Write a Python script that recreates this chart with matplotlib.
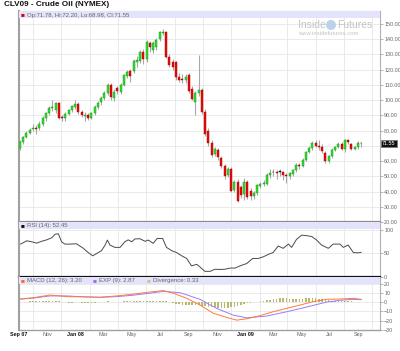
import matplotlib
matplotlib.use("Agg")
import matplotlib.pyplot as plt
import matplotlib.transforms as mtransforms
from matplotlib.patches import Rectangle, Ellipse
import numpy as np
import pandas as pd

plt.rcParams["font.family"] = ["Liberation Sans", "DejaVu Sans"]

# weekly candles of CLV09, first bar = week of 2007-09-03
opens = [68.5, 72.5, 76.0, 78.5, 81.2, 82.0, 81.5, 84.5, 88.0, 91.5,
         95.0, 93.5, 98.0, 89.0, 88.0, 91.0, 93.5, 95.5, 97.5, 92.4,
         89.6, 90.3, 88.5, 91.5, 95.5, 98.6, 101.2, 105.0, 110.0, 101.6,
         107.8, 105.5, 110.0, 116.0, 119.0, 119.0, 125.3, 125.7, 131.4, 127.0,
         137.7, 133.0, 134.7, 140.2, 144.3, 144.5, 128.5, 125.2, 125.0, 115.0,
         113.5, 113.0, 116.5, 107.0, 99.0, 104.7, 106.7, 92.4, 80.0, 72.0,
         64.4, 67.3, 61.8, 56.8, 50.9, 54.6, 41.0, 46.5, 42.8, 38.4,
         46.5, 40.4, 37.0, 39.2, 43.6, 45.0, 45.0, 50.9, 52.6, 52.8,
         53.0, 52.5, 51.0, 50.0, 51.5, 54.0, 57.5, 57.0, 61.0, 66.0,
         68.5, 72.0, 70.0, 69.5, 65.5, 60.0, 63.0, 67.5, 69.5, 71.5,
         68.0, 73.5, 71.5, 68.0, 69.0, 71.78]
highs = [73.5, 76.5, 79.5, 81.5, 84.0, 83.5, 86.5, 89.5, 92.5, 96.0,
         100.0, 99.0, 99.0, 90.5, 92.0, 94.5, 97.0, 100.0, 98.5, 93.5,
         92.0, 91.5, 92.5, 96.5, 99.5, 102.5, 106.0, 111.0, 111.0, 107.0,
         109.5, 111.0, 117.0, 119.5, 120.5, 127.0, 129.0, 133.0, 133.5, 139.5,
         139.0, 139.0, 140.5, 145.5, 146.7, 145.5, 130.0, 127.0, 126.0, 118.0,
         117.0, 117.0, 118.0, 109.0, 106.0, 129.6, 108.0, 94.0, 81.5, 74.0,
         69.0, 68.5, 63.5, 58.0, 56.0, 56.0, 47.5, 48.0, 44.5, 49.0,
         47.5, 42.0, 40.5, 45.0, 46.0, 47.5, 52.0, 55.0, 54.5, 54.0,
         54.5, 53.5, 52.0, 53.0, 55.0, 58.5, 59.0, 62.0, 66.5, 70.0,
         73.0, 73.5, 74.0, 71.0, 66.5, 64.0, 68.5, 70.0, 72.5, 72.5,
         74.5, 74.5, 72.0, 70.0, 73.0, 72.20]
lows = [67.5, 71.5, 75.0, 77.5, 79.5, 78.0, 80.5, 83.0, 86.5, 90.0,
        93.0, 91.5, 87.5, 86.5, 86.5, 90.0, 92.5, 94.5, 91.0, 89.0,
        86.0, 87.0, 87.5, 90.5, 94.5, 97.0, 100.0, 103.5, 100.0, 99.5,
        104.0, 104.0, 109.0, 114.5, 112.0, 117.5, 122.0, 124.5, 124.0, 125.0,
        131.5, 131.0, 133.0, 139.0, 142.5, 127.5, 121.5, 120.0, 113.5, 112.0,
        111.0, 111.5, 104.5, 100.0, 90.0, 103.0, 91.0, 76.5, 70.0, 62.5,
        63.0, 61.0, 55.5, 48.5, 49.5, 39.5, 40.0, 33.0, 36.0, 34.5,
        35.0, 34.5, 35.0, 38.0, 42.5, 43.5, 44.0, 49.0, 50.5, 48.5,
        50.0, 47.5, 45.5, 48.5, 50.5, 53.0, 55.0, 56.0, 60.0, 65.0,
        67.5, 69.0, 67.0, 65.5, 58.5, 59.0, 62.0, 66.5, 68.5, 67.5,
        66.0, 71.0, 67.0, 67.5, 68.0, 68.98]
closes = [72.5, 76.0, 78.5, 80.5, 81.7, 81.2, 84.5, 88.5, 91.5, 95.0,
          95.7, 98.0, 88.5, 88.3, 91.0, 93.5, 96.0, 97.5, 92.4, 90.3,
          89.8, 88.5, 91.5, 95.5, 98.3, 101.6, 105.0, 110.0, 101.9, 105.5,
          106.2, 110.0, 116.5, 118.3, 116.0, 125.7, 126.4, 131.8, 127.0, 138.4,
          134.7, 137.7, 139.5, 145.0, 145.0, 128.5, 123.0, 122.0, 115.0, 113.2,
          113.2, 115.0, 106.2, 101.0, 104.5, 106.7, 92.4, 77.8, 71.7, 64.0,
          67.7, 62.9, 56.8, 50.2, 54.6, 40.2, 46.0, 34.0, 37.7, 46.2,
          36.6, 37.0, 38.8, 44.3, 45.0, 45.8, 50.9, 52.3, 52.6, 52.0,
          53.0, 51.0, 50.0, 52.0, 54.0, 57.5, 56.5, 61.0, 66.0, 68.5,
          72.0, 70.0, 69.5, 66.5, 60.0, 63.0, 67.5, 69.5, 71.5, 68.0,
          73.5, 72.2, 68.0, 69.0, 72.0, 71.55]

# RSI (14): week index, value
rsi_week = [0.2, 2.1, 3.6, 5.1, 6.7, 8.2, 9.8, 10.8, 11.8, 12.8, 13.8, 15.4,
            17.4, 19.5, 21.0, 22.4, 23.6, 25.1, 26.2, 26.9, 27.7, 29.2, 30.8,
            32.3, 33.3, 34.4, 35.4, 36.9, 38.5, 39.5, 41.0, 42.2, 43.9, 45.1,
            46.7, 48.2, 49.8, 51.3, 52.8, 54.4, 55.4, 56.9, 58.5, 60.0, 61.5,
            63.1, 64.6, 66.2, 67.7, 69.8, 71.6, 73.3, 74.9, 76.4, 77.9, 79.5,
            81.0, 82.6, 83.6, 85.1, 86.7, 88.2, 89.8, 91.3, 92.8, 94.9, 96.4,
            98.5, 99.5, 101.0, 102.6, 104.1, 105.0]
rsi_val = [70, 77, 75, 72, 76, 79, 83.5, 91, 92, 75, 70, 70,
           70.7, 61, 52, 45, 50, 56, 68, 78.6, 68, 63, 63,
           75, 79, 75, 81, 81.4, 76, 78.6, 71.5, 82, 82, 63,
           56, 52, 45, 39.4, 23.6, 27, 21.4, 12, 12, 16.5, 16,
           16.5, 19, 19, 23.6, 28.7, 39.4, 39.4, 43, 48, 52, 66,
           61, 70, 63, 80, 89, 88, 86, 78.6, 68, 61, 70,
           70, 63, 68, 52, 51.4, 52.45]

# MACD (12, 26) and EXP (9)
macd_week = [0.2, 4.1, 9.2, 14.4, 19.5, 24.6, 29.8, 34.9, 40.0, 44.1, 47.2,
             51.3, 55.4, 59.5, 63.6, 66.7, 69.8, 73.8, 77.9, 82.1, 86.2,
             90.2, 94.4, 98.5, 102.6, 105.0]
macd_val = [3.6, 5.0, 8.0, 6.2, 6.0, 5.5, 7.0, 9.0, 11.3, 12.8, 10.0,
            4.4, -3.0, -12.0, -16.5, -19.5, -18.0, -14.7, -10.3, -6.6, -3.0,
            0.7, 3.3, 3.6, 4.4, 3.2]
sig_week = [0.2, 4.1, 9.2, 14.4, 19.5, 24.6, 29.8, 34.9, 40.0, 44.1, 49.3,
            55.4, 60.5, 65.6, 69.8, 76.0, 82.1, 88.2, 94.4, 98.5, 102.6, 105.0]
sig_val = [3.6, 4.6, 7.0, 7.0, 6.0, 5.5, 6.2, 7.8, 10.0, 12.0, 10.5,
           3.3, -6.6, -14.0, -17.0, -15.0, -10.3, -5.2, 0.3, 2.2, 3.3, 2.87]
divergence = [0, 0.5, 0.5, 1, 1, 1, 1, 1.5, 1.5, 1.5,
              1.5, 1.5, 1, 0.5, 0, -0.3, -0.5, 0, 0, -0.5,
              -0.8, -1, -0.8, -0.5, 0, 0.3, 0.5, 1, 0.8, 0.5,
              0.5, 0.8, 1, 1.3, 1.3, 1.5, 1.5, 1.8, 1.5, 1.8,
              1.5, 1.5, 1.3, 1.5, 1.8, 1, 0, -1, -1.5, -2,
              -2.5, -2.5, -3, -3, -3, -3, -3.5, -4.5, -5, -5.5,
              -5.5, -6, -6, -6, -6, -5.5, -5, -4, -3, -1.5,
              -1, -0.5, 0, 0.5, 1, 1.5, 2, 3, 3.5, 4,
              4.5, 4.5, 4.5, 4, 4, 4, 4, 4, 4.5, 4.5,
              4.5, 4.5, 4, 3.5, 2.5, 2, 1.5, 1.5, 1.5, 1.5,
              1.5, 1.5, 1, 0.8, 0.5, 0.33]

month_labels = ["Sep 07", "Nov", "Jan 08", "Mar", "May", "Jul", "Sep",
                "Nov", "Jan 09", "Mar", "May", "Jul", "Sep"]
bold_labels = {"Sep 07", "Jan 08", "Jan 09"}

W, H = 400, 351
GRID = "#e6e6e6"
TXT = "#666666"

first_week = pd.Timestamp("2007-09-03")
month_starts = pd.date_range("2007-09-01", "2009-10-01", freq="MS")
month_pos = np.asarray((month_starts - first_week).days) / 7.0
label_pos = month_pos[::2][:len(month_labels)]

fig = plt.figure(figsize=(W / 100, H / 100), dpi=100)
fig.patch.set_facecolor("white")


def px_axes(top, bottom):
    return [19 / W, 1 - bottom / H, 361 / W, (bottom - top) / H]


ax = fig.add_axes(px_axes(11, 222))
ax_rsi = fig.add_axes(px_axes(222, 277), sharex=ax)
ax_macd = fig.add_axes(px_axes(277, 330), sharex=ax)

idx = np.arange(len(closes))
o = np.array(opens)
c = np.array(closes)

# candles
ax.vlines(idx, lows, highs, color="#a8a8a8", linewidth=0.8, zorder=2)
for i in idx:
    if abs(c[i] - o[i]) < 0.05:
        face, edge = "#111111", "#111111"
    elif c[i] > o[i]:
        face, edge = "#2fe02f", "#129012"
    else:
        face, edge = "#ee0a0a", "#a00000"
    lo, hi = min(o[i], c[i]), max(o[i], c[i])
    ax.bar(i, max(hi - lo, 0.5), bottom=lo, width=0.62, color=face,
           edgecolor=edge, linewidth=0.3, zorder=3)

ax.set_xlim(-0.3, 110.8)
ax.set_ylim(20, 158.5)
price_ticks = np.arange(20, 151, 10)
ax.set_yticks(price_ticks)
# the 70.00 label sits under the last-price box
ax.set_yticklabels(["" if v == 70 else f"{v:.2f}" for v in price_ticks])

ax_rsi.plot(rsi_week, rsi_val, color="#4a4a4a", linewidth=0.7, zorder=3)
ax_rsi.set_ylim(0, 117)
ax_rsi.set_yticks([0, 50, 100])

ax_macd.bar(idx, divergence, width=0.5, color="#b9b96e", zorder=2)
ax_macd.plot(sig_week, sig_val, color="#9b7cf6", linewidth=0.7, zorder=3)
ax_macd.plot(macd_week, macd_val, color="#ff7a3c", linewidth=0.7, zorder=4)
ax_macd.set_ylim(-30.3, 27.7)
ax_macd.set_yticks(np.arange(-30, 21, 10))

for a in (ax, ax_rsi, ax_macd):
    a.set_facecolor("white")
    a.yaxis.tick_right()
    a.tick_params(axis="y", labelsize=3.9, colors="#999999", labelcolor=TXT,
                  length=2, width=0.5, pad=1)
    a.set_xticks(month_pos, minor=True)
    a.grid(True, which="minor", axis="x", color=GRID, linewidth=0.6, zorder=0)
    a.grid(True, which="major", axis="y", color=GRID, linewidth=0.6, zorder=0)
    a.set_axisbelow(True)
    for side in ("top", "bottom"):
        a.spines[side].set_visible(False)
    a.spines["left"].set_color("#a0a0a0")
    a.spines["left"].set_linewidth(1.5)
    a.spines["right"].set_color("#b0b0b0")
    a.spines["right"].set_linewidth(0.8)
    a.tick_params(axis="x", which="both", length=0, labelbottom=False)

ax.spines["top"].set_visible(True)
ax.spines["top"].set_color("#b8b8b8")
ax.spines["top"].set_linewidth(0.8)
ax.spines["bottom"].set_visible(True)
ax.spines["bottom"].set_color("#8c8c8c")
ax.spines["bottom"].set_linewidth(1.6)
ax_rsi.spines["bottom"].set_visible(True)
ax_rsi.spines["bottom"].set_color("#111111")
ax_rsi.spines["bottom"].set_linewidth(1.6)
ax_macd.spines["bottom"].set_visible(True)
ax_macd.spines["bottom"].set_color("#a0a0a0")
ax_macd.spines["bottom"].set_linewidth(1.0)

ax_macd.set_xticks(label_pos)
ax_macd.set_xticklabels(month_labels)
ax_macd.tick_params(axis="x", which="major", labelbottom=True, labelsize=3.9,
                    length=0, pad=1.5, labelcolor=TXT)
for lbl in ax_macd.get_xticklabels():
    if lbl.get_text() in bold_labels:
        lbl.set_fontweight("bold")
        lbl.set_color("#111111")

# legend bands
for a, hpx in ((ax, 211), (ax_rsi, 55), (ax_macd, 53)):
    band = 6.5 / hpx
    a.add_patch(Rectangle((0, 1 - band), 1, band, transform=a.transAxes,
                          facecolor="#e3e3fb", edgecolor="none", zorder=5))


def ftext(x, y, s, **kw):
    fig.text(x / W, 1 - y / H, s, va="center", **kw)


LEG = 4.3
ftext(4, 5, "CLV09 - Crude Oil (NYMEX)", fontsize=5.9, fontweight="bold",
      color="#111111")
ftext(21, 15, "\u25a0", fontsize=4.6, color="#dd0000")
ftext(27, 15, "Op:71.78, Hi:72.20, Lo:68.98, Cl:71.55", fontsize=LEG, color=TXT)
ftext(21, 225.5, "\u25a0", fontsize=4.6, color="#111111")
ftext(27, 225.5, "RSI (14): 52.45", fontsize=LEG, color=TXT)
ftext(21, 280.5, "\u25a0", fontsize=4.6, color="#ff6a20")
ftext(27, 280.5, "MACD (12, 26): 3.20", fontsize=LEG, color=TXT)
ftext(93, 280.5, "\u25a0", fontsize=4.6, color="#9b6cf6")
ftext(99, 280.5, "EXP (9): 2.87", fontsize=LEG, color=TXT)
ftext(147, 280.5, "\u25a0", fontsize=4.6, color="#c8c88a")
ftext(153, 280.5, "Divergence: 0.33", fontsize=LEG, color=TXT)

# watermark
ftext(298, 25, "Inside", fontsize=7.5, color="#c4c4c4")
fig.patches.append(Ellipse((331 / W, 1 - 25 / H), 10 / W, 10 / H,
                           transform=fig.transFigure, facecolor="#bcd2ea",
                           edgecolor="none"))
ftext(337, 25, "Futures", fontsize=7.5, color="#c4c4c4")
ftext(298, 33.5, "www.insidefutures.com", fontsize=4.2, color="#c4c4c4")

# last price box
trans = mtransforms.blended_transform_factory(ax.transAxes, ax.transData)
ax.text(1.006, closes[-1], f"{closes[-1]:.2f}", transform=trans, fontsize=3.9,
        color="white", va="center", ha="left", zorder=10, clip_on=False,
        bbox=dict(boxstyle="square,pad=0.25", facecolor="#111111",
                  edgecolor="#777777", linewidth=0.5))

fig.savefig("out.png", dpi=100, facecolor="white")
